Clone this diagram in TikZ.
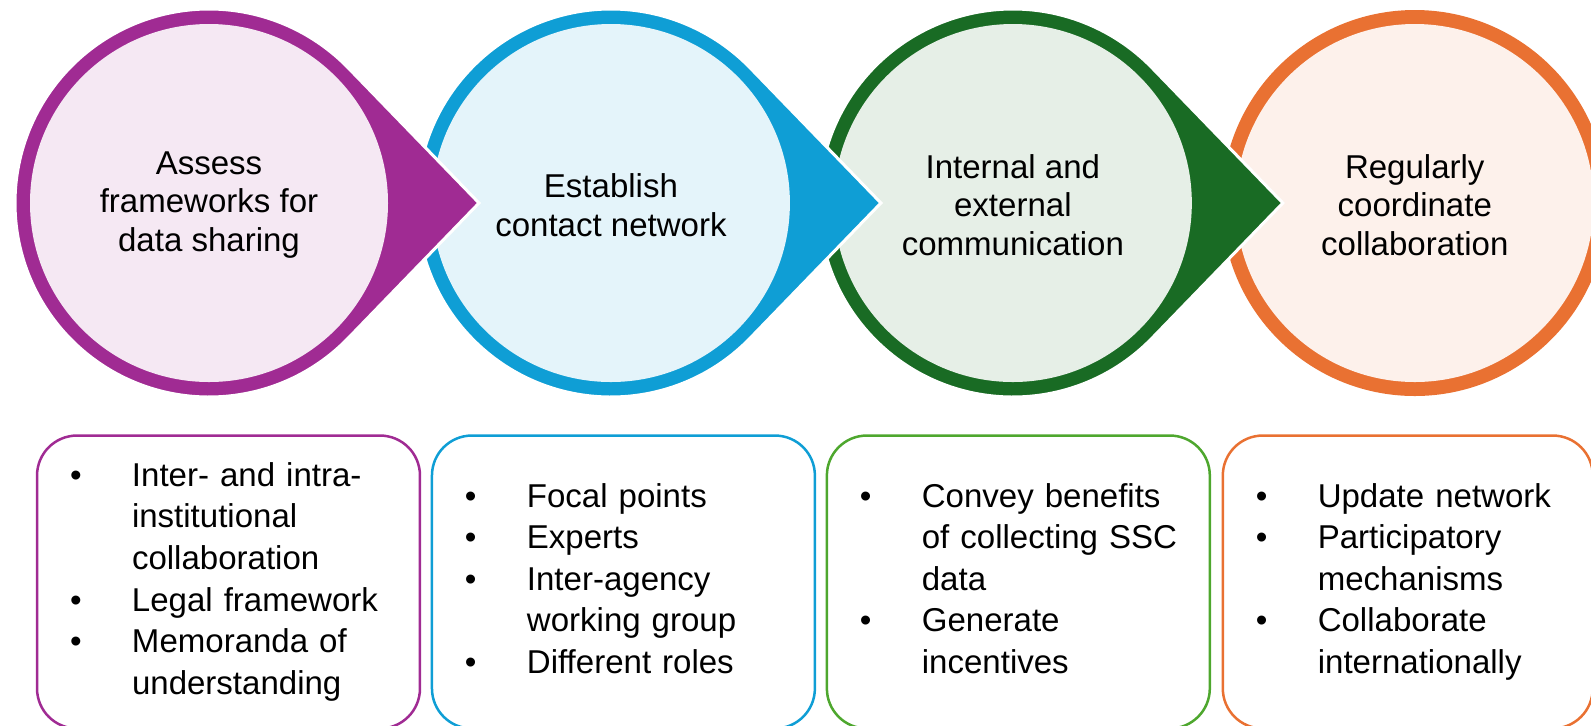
\documentclass[tikz,border=0pt]{standalone}
\usepackage{fontspec}
\setmainfont{Liberation Sans}
\usetikzlibrary{positioning, calc}
\setlength{\parindent}{0pt}

\definecolor{plum}{HTML}{A02B93}
\definecolor{sky}{HTML}{0F9ED5}
\definecolor{forest}{HTML}{196B24}
\definecolor{grass}{HTML}{4EA72E}
\definecolor{tangerine}{HTML}{E97132}

\tikzset {
    x=0.02cm,
    y=-0.02cm,
    node distance=8.04cm,
    steptext/.style={align=center, inner sep=0pt, yshift=-0.04cm, font=\fontsize{18.8pt}{21.9pt}\selectfont},
    listbox/.style={draw=#1, line width=0.05cm, rounded corners=0.8cm,
        inner xsep=0.66cm, text width=6.34cm, minimum height=5.86cm,
        align=left, font=\fontsize{18.8pt}{23.7pt}\selectfont}
}

\newcommand{\drop}[3]{
    \fill[#2, draw=white, line width=0.06cm]
        ($(#1)+(270,0)$) -- ($(#1)+(44.1:194)$)
        arc[start angle=44.1, end angle=315.9, radius=194] -- cycle;
    \fill[#3] (#1) circle[radius=179];
}

\begin{document}
\begin{tikzpicture}
    \useasboundingbox (0,0) rectangle (1591,725);
    \clip (0,0) rectangle (1591,725);

    \coordinate (c1) at (209,203);
    \coordinate[right of=c1] (c2);
    \coordinate[right of=c2] (c3);
    \coordinate[right of=c3] (c4);

    \fill[tangerine] (c4) circle[radius=193];
    \fill[tangerine!10!white] (c4) circle[radius=179];
    \drop{c3}{forest}{forest!11!white}
    \drop{c2}{sky}{sky!11!white}
    \drop{c1}{plum}{plum!11!white}

    \node[steptext] (assess) at (c1) {Assess\\frameworks for\\data sharing};
    \node[steptext] (establish) at (c2) {Establish\\contact network};
    \node[steptext] (communicate) at (c3) {Internal and\\external\\communication};
    \node[steptext] (coordinate) at (c4) {Regularly\\coordinate\\collaboration};

    \node[listbox=plum] (list1) at (228.5,582) {
        \begin{tabular}{@{}p{1.24cm}@{}l@{}}
            \textbullet & Inter- and intra-\\
                        & institutional\\
                        & collaboration\\
            \textbullet & Legal framework\\
            \textbullet & Memoranda of\\
                        & understanding
        \end{tabular}};
    \node[listbox=sky, right=0.19cm of list1] (list2) {
        \begin{tabular}{@{}p{1.24cm}@{}l@{}}
            \textbullet & Focal points\\
            \textbullet & Experts\\
            \textbullet & Inter-agency\\
                        & working group\\
            \textbullet & Different roles
        \end{tabular}};
    \node[listbox=grass, right=0.19cm of list2] (list3) {
        \begin{tabular}{@{}p{1.24cm}@{}l@{}}
            \textbullet & Convey benefits\\
                        & of collecting SSC\\
                        & data\\
            \textbullet & Generate\\
                        & incentives
        \end{tabular}};
    \node[listbox=tangerine, text width=6.08cm, right=0.21cm of list3] (list4) {
        \begin{tabular}{@{}p{1.24cm}@{}l@{}}
            \textbullet & Update network\\
            \textbullet & Participatory\\
                        & mechanisms\\
            \textbullet & Collaborate\\
                        & internationally
        \end{tabular}};
\end{tikzpicture}
\end{document}
